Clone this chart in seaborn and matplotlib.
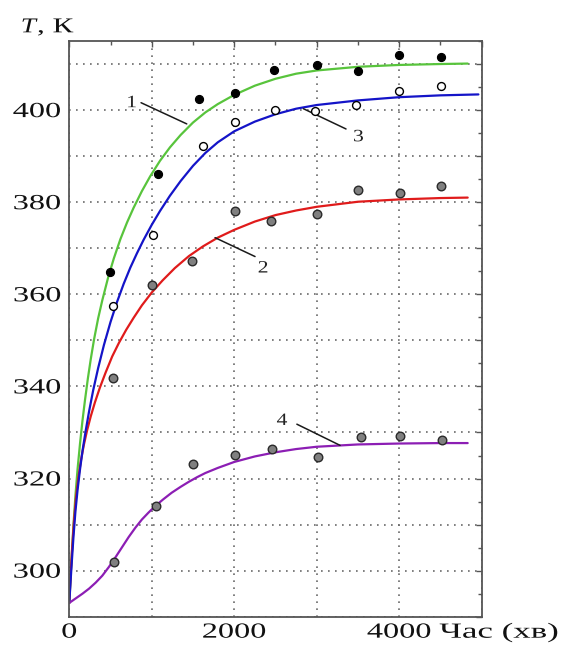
import pandas as pd
import matplotlib
matplotlib.use("Agg")
import matplotlib.pyplot as plt
import seaborn as sns
from matplotlib.patheffects import AbstractPathEffect
from matplotlib.transforms import Affine2D
from matplotlib.ticker import MultipleLocator, FuncFormatter

# measured points (time in min, temperature in K)
x1 = [490, 1070, 1570, 2010, 2480, 3000, 3500, 4000, 4510]
T1 = [364.9, 386.1, 402.3, 403.7, 408.8, 409.7, 408.4, 412.0, 411.5]
x2 = [535, 1000, 1485, 2010, 2450, 3005, 3500, 4010, 4505]
T2 = [341.8, 362.1, 367.3, 378.0, 376.0, 377.5, 382.7, 381.9, 383.6]
x3 = [530, 1010, 1625, 2010, 2500, 2975, 3475, 4000, 4510]
T3 = [357.5, 372.8, 392.2, 397.5, 400.0, 399.9, 401.0, 404.1, 405.3]
x4 = [543, 1048, 1495, 2010, 2460, 3010, 3540, 4005, 4520]
T4 = [301.8, 314.0, 323.1, 325.1, 326.5, 324.6, 329.1, 329.2, 328.4]

# model curves
c1_t = [0, 15, 30, 50, 74, 100, 130, 160, 190, 225, 260, 300, 350, 400, 470, 540, 620,
        700, 780, 880, 980, 1100, 1220, 1350, 1500, 1650, 1800, 2000, 2250, 2500, 2750,
        3000, 3500, 4000, 4500, 4830]
c1_T = [293.0, 298.5, 303.5, 309.8, 316.2, 322.0, 327.6, 332.6, 337.0, 341.7, 345.9,
        350.2, 354.8, 358.7, 363.6, 367.8, 372.0, 375.6, 378.8, 382.4, 385.6, 389.0,
        391.9, 394.6, 397.3, 399.5, 401.3, 403.3, 405.3, 406.8, 407.9, 408.6, 409.4,
        409.8, 410.0, 410.1]
c2_t = [0, 10, 20, 35, 55, 80, 110, 140, 175, 215, 260, 310, 370, 440, 520, 600, 690,
        780, 880, 1000, 1130, 1280, 1450, 1620, 1800, 2000, 2250, 2500, 2750, 3000, 3500,
        4000, 4500, 4830]
c2_T = [293.0, 296.8, 300.3, 305.0, 310.3, 315.6, 320.2, 323.8, 327.2, 330.4, 333.5,
        336.5, 339.7, 343.0, 346.5, 349.4, 352.3, 354.9, 357.6, 360.4, 363.0, 365.7,
        368.3, 370.4, 372.3, 374.0, 375.8, 377.2, 378.2, 379.0, 380.1, 380.6, 380.9, 381.0]
c3_t = [0, 15, 30, 50, 74, 100, 130, 160, 200, 240, 290, 350, 420, 500, 580, 660, 740,
        820, 900, 1000, 1100, 1220, 1350, 1500, 1650, 1800, 2000, 2250, 2500, 2750, 3000,
        3500, 4000, 4500, 4960]
c3_T = [293.0, 297.5, 301.8, 307.2, 312.8, 317.5, 322.0, 326.0, 330.5, 334.6, 339.2,
        344.0, 349.0, 354.0, 358.4, 362.3, 365.8, 368.9, 371.8, 375.1, 378.1, 381.4,
        384.6, 387.9, 390.7, 393.0, 395.4, 397.5, 399.1, 400.3, 401.1, 402.1, 402.8,
        403.2, 403.4]
c4_t = [0, 80, 160, 240, 320, 400, 480, 560, 640, 720, 800, 880, 960, 1040, 1140, 1240,
        1350, 1450, 1550, 1650, 1800, 2000, 2250, 2500, 2750, 3000, 3500, 4000, 4500, 4830]
c4_T = [293.0, 294.0, 295.0, 296.1, 297.4, 298.9, 300.8, 302.9, 305.1, 307.3, 309.3,
        311.1, 312.6, 314.0, 315.5, 316.9, 318.2, 319.3, 320.3, 321.2, 322.3, 323.6,
        324.8, 325.7, 326.4, 326.9, 327.4, 327.6, 327.7, 327.7]

curve_colors = {"1": "#58c43c", "2": "#e01b1b", "3": "#1414c8", "4": "#8c1eb4"}

# label positions for curve numbers and leader lines
labels = ["1", "2", "3", "4"]
label_xy = [(757, 401.5), (2350, 365.6), (3505, 394.1), (2579, 332.5)]
leader_lines = [((870, 1424), (401.6, 397.0)), ((1767, 2252), (372.3, 368.2)),
                ((2838, 3355), (400.3, 395.9)), ((2759, 3283), (331.8, 327.2))]


class Stretch(AbstractPathEffect):
    # widen text glyphs horizontally (the source font is wide)
    def __init__(self, sx, anchor="left"):
        super().__init__()
        self.sx = sx
        self.anchor = anchor

    def draw_path(self, renderer, gc, tpath, affine, rgbFace=None):
        ext = tpath.get_extents()
        a = {"left": 0, "center": (ext.x0 + ext.x1) / 2, "right": ext.x1}[self.anchor]
        t = Affine2D().translate(-a, 0).scale(self.sx, 1).translate(a, 0)
        renderer.draw_path(gc, tpath, t + affine, rgbFace)


sns.set_style("white")
plt.rcParams["font.family"] = ["Liberation Serif", "DejaVu Serif"]

curves = pd.concat([
    pd.DataFrame({"t": c1_t, "T": c1_T, "curve": "1"}),
    pd.DataFrame({"t": c2_t, "T": c2_T, "curve": "2"}),
    pd.DataFrame({"t": c3_t, "T": c3_T, "curve": "3"}),
    pd.DataFrame({"t": c4_t, "T": c4_T, "curve": "4"}),
])

fig = plt.figure(figsize=(5.65, 6.51), dpi=100)
ax = fig.add_axes([69.3 / 565, 34.3 / 651, 412.4 / 565, 575.7 / 651])

sns.lineplot(data=curves, x="t", y="T", hue="curve", palette=curve_colors,
             linewidth=1.6, legend=False, errorbar=None, ax=ax, zorder=2)

sns.scatterplot(x=x1, y=T1, color="black", edgecolor="black", s=34, linewidth=0.8, ax=ax, zorder=4)
sns.scatterplot(x=x3, y=T3, color="white", edgecolor="black", s=32, linewidth=1.0, ax=ax, zorder=4)
sns.scatterplot(x=x2, y=T2, color="#808080", edgecolor="#2a2a2a", s=38, linewidth=1.0, ax=ax, zorder=4)
sns.scatterplot(x=x4, y=T4, color="#808080", edgecolor="#2a2a2a", s=38, linewidth=1.0, ax=ax, zorder=4)

for lab, (tx, ty), (lx, ly) in zip(labels, label_xy, leader_lines):
    ax.plot(lx, ly, color="#1a1a1a", linewidth=1.1, zorder=3)
    ax.text(tx, ty, lab, fontsize=12.5, ha="center", va="center", color="#222222",
            path_effects=[Stretch(1.25, "center")])

ax.set_xlim(0, 5000)
ax.set_ylim(290, 415)
ax.xaxis.set_major_locator(MultipleLocator(1000))
ax.xaxis.set_minor_locator(MultipleLocator(500))
ax.yaxis.set_major_locator(MultipleLocator(10))
ax.yaxis.set_minor_locator(MultipleLocator(5))
ax.xaxis.set_major_formatter(FuncFormatter(lambda v, p: f"{v:.0f}" if v in (0, 2000, 4000) else ""))
ax.yaxis.set_major_formatter(FuncFormatter(
    lambda v, p: f"{v:.0f}" if round(v) % 20 == 0 and 300 <= v <= 400 else ""))
ax.tick_params(which="both", direction="in", top=True, right=True, color="#555555",
               labelsize=15.5, labelcolor="#111111")
ax.tick_params(which="major", length=4, width=1)
ax.tick_params(which="minor", length=3, width=1)
ax.tick_params(axis="x", pad=5)
ax.tick_params(axis="y", pad=6)
ax.grid(True, which="major", color="#6a6a6a", linestyle=(0, (1, 3.2)), linewidth=1.2)
ax.set_axisbelow(True)
for sp in ax.spines.values():
    sp.set_color("#555555")
    sp.set_linewidth(1.3)
ax.set_xlabel("")
ax.set_ylabel("")

for lbl in ax.get_xticklabels():
    lbl.set_path_effects([Stretch(1.5, "center")])
for lbl in ax.get_yticklabels():
    lbl.set_path_effects([Stretch(1.5, "right")])

# axis titles
fig.text(20.7 / 565, (651 - 32.3) / 651, "T", fontsize=15.2, style="italic", ha="left",
         va="baseline", color="#111111", path_effects=[Stretch(1.3, "left")])
fig.text(37 / 565, (651 - 32.3) / 651, ", К", fontsize=15.2, ha="left", va="baseline",
         color="#111111", path_effects=[Stretch(1.47, "left")])
fig.text(439.3 / 565, (651 - 637.7) / 651, "Час (хв)", fontsize=15.5, ha="left",
         va="baseline", color="#111111", path_effects=[Stretch(1.62, "left")])

fig.savefig("out.png", dpi=100)
